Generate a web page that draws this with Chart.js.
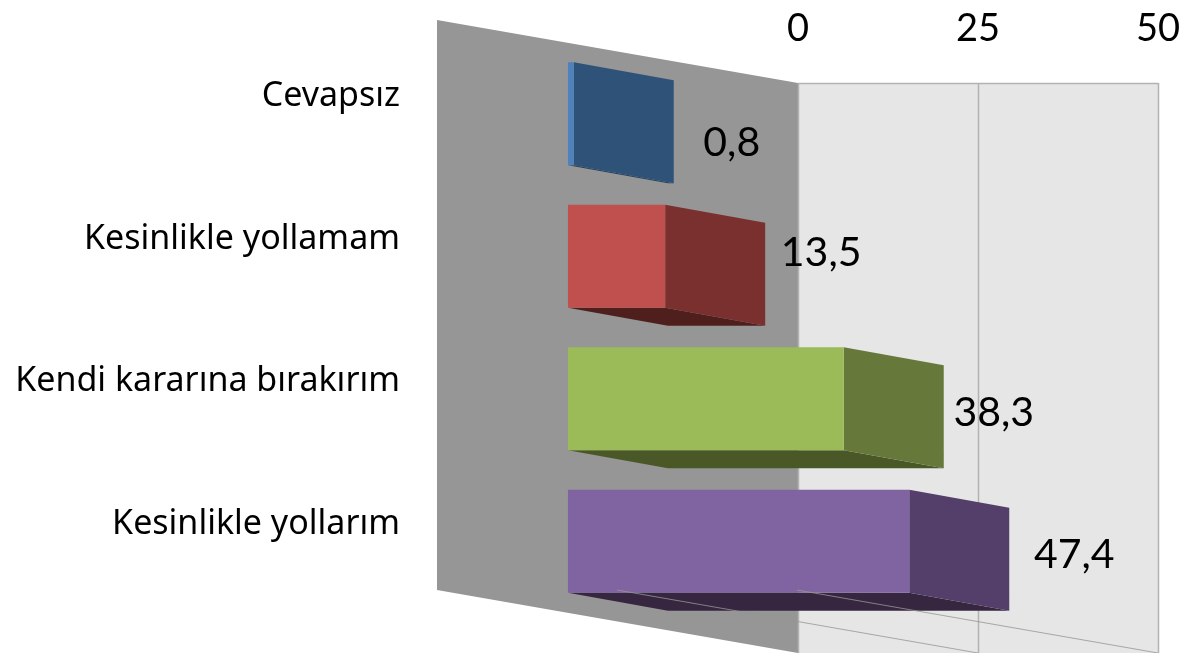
<!DOCTYPE html>
<html>
<head>
<meta charset="utf-8">
<title>Chart</title>
<script src="https://cdn.jsdelivr.net/npm/chart.js@4/dist/chart.umd.min.js"></script>
<style>
  body { margin: 0; background: #fff; }
  #wrap { width: 1188px; height: 653px; }
</style>
</head>
<body>
<div id="wrap"><canvas id="chart" width="1188" height="653"></canvas></div>
<script>
const categories = ['Cevapsız', 'Kesinlikle yollamam', 'Kendi kararına bırakırım', 'Kesinlikle yollarım'];
const values = [0.8, 13.5, 38.3, 47.4];
const valueLabels = ['0,8', '13,5', '38,3', '47,4'];
const axisTicks = [0, 25, 50];

const frontColors = ['#4f81bd', '#c0504d', '#9bbb59', '#8064a2'];
const sideColors = ['#2f5279', '#7a302e', '#66783a', '#533f6a'];
const bottomColors = ['#24405f', '#4f1f1e', '#4a5727', '#37263f'];

// offsets of the data labels from the end of each bar's back edge
const labelNudgeX = [58, 56, 50, 65];
const labelNudgeY = [29, -3, 14, 14];

const barDepth = { dx: 100, dy: 18 };
const roomDepth = { dx: 361, dy: 63 };
const wallTop = 83;
const labelFont = '"Noto Sans"';
const numberFont = 'Lato';

function poly(ctx, pts, color) {
    ctx.fillStyle = color;
    ctx.beginPath();
    pts.forEach((p, i) => i ? ctx.lineTo(p[0], p[1]) : ctx.moveTo(p[0], p[1]));
    ctx.closePath();
    ctx.fill();
}

function noAxisPadding(axis) {
    axis.paddingTop = 0;
    axis.paddingBottom = 0;
    axis.paddingLeft = 0;
    axis.paddingRight = 0;
}

const room3d = {
    id: 'room3d',
    beforeDatasetsDraw(chart) {
        const { ctx, scales, height } = chart;
        const x = scales.x;
        const zero = x.getPixelForValue(0);
        const end = x.getPixelForValue(axisTicks[axisTicks.length - 1]);

        ctx.save();
        // back wall and side wall
        ctx.fillStyle = '#e6e6e6';
        ctx.fillRect(zero, wallTop, end - zero, height - wallTop);
        poly(ctx, [
            [zero - roomDepth.dx, wallTop - roomDepth.dy],
            [zero, wallTop],
            [zero, height],
            [zero - roomDepth.dx, height - roomDepth.dy]
        ], '#969696');

        ctx.strokeStyle = '#b2b2b2';
        ctx.lineWidth = 1.5;
        ctx.beginPath();
        ctx.moveTo(zero, wallTop + 0.5);
        ctx.lineTo(end, wallTop + 0.5);
        axisTicks.forEach(t => {
            const px = Math.round(x.getPixelForValue(t)) + 0.5;
            ctx.moveTo(px, wallTop);
            ctx.lineTo(px, height);
        });
        ctx.stroke();

        // depth faces of the bars, the native bars are the front faces
        chart.getDatasetMeta(0).data.forEach((bar, i) => {
            const top = bar.y - bar.height / 2;
            const bottom = bar.y + bar.height / 2;
            const { dx, dy } = barDepth;
            poly(ctx, [[bar.base, bottom], [bar.x, bottom], [bar.x + dx, bottom + dy], [bar.base + dx, bottom + dy]], bottomColors[i]);
            poly(ctx, [[bar.x, top], [bar.x + dx, top + dy], [bar.x + dx, bottom + dy], [bar.x, bottom]], sideColors[i]);
        });
        ctx.restore();
    },
    afterDatasetsDraw(chart) {
        const { ctx, scales, height } = chart;
        const x = scales.x;

        ctx.save();
        // floor grid lines run over the bars
        ctx.strokeStyle = 'rgba(150,150,150,0.8)';
        ctx.lineWidth = 1;
        axisTicks.slice(1).forEach(t => {
            const px = x.getPixelForValue(t);
            ctx.beginPath();
            ctx.moveTo(px - roomDepth.dx, height - roomDepth.dy);
            ctx.lineTo(px, height);
            ctx.stroke();
        });

        ctx.fillStyle = '#000';
        ctx.font = '41px ' + numberFont;
        ctx.textAlign = 'center';
        ctx.textBaseline = 'middle';
        chart.getDatasetMeta(0).data.forEach((bar, i) => {
            ctx.fillText(valueLabels[i], bar.x + barDepth.dx + labelNudgeX[i], bar.y + labelNudgeY[i]);
        });
        ctx.restore();
    }
};

new Chart(document.getElementById('chart'), {
    type: 'bar',
    data: {
        labels: categories,
        datasets: [{
            data: values,
            xAxisID: 'xFront',
            backgroundColor: frontColors,
            barPercentage: 0.9,
            categoryPercentage: 0.803
        }]
    },
    options: {
        indexAxis: 'y',
        responsive: false,
        animation: false,
        layout: { padding: { right: 30, bottom: 40.5 } },
        plugins: { legend: { display: false }, tooltip: { enabled: false } },
        scales: {
            x: {
                position: 'top',
                min: -50.14,
                max: 50,
                afterBuildTicks: axis => { axis.ticks = axisTicks.map(v => ({ value: v })); },
                afterFit: axis => { axis.height = 42.5; noAxisPadding(axis); },
                grid: { display: false, drawTicks: false },
                border: { display: false },
                ticks: {
                    color: '#000',
                    font: { family: numberFont, size: 38 },
                    maxRotation: 0,
                    padding: -9
                }
            },
            // front plane of the bars sits in front of the value axis
            xFront: { display: false, min: -18.19, max: 81.95 },
            y: {
                afterFit: axis => { axis.width = 437; noAxisPadding(axis); },
                grid: { display: false, drawTicks: false },
                border: { display: false },
                ticks: {
                    color: '#000',
                    font: { family: labelFont, size: 34 },
                    padding: 37,
                    labelOffset: -17
                }
            }
        }
    },
    plugins: [room3d]
});
</script>
</body>
</html>
